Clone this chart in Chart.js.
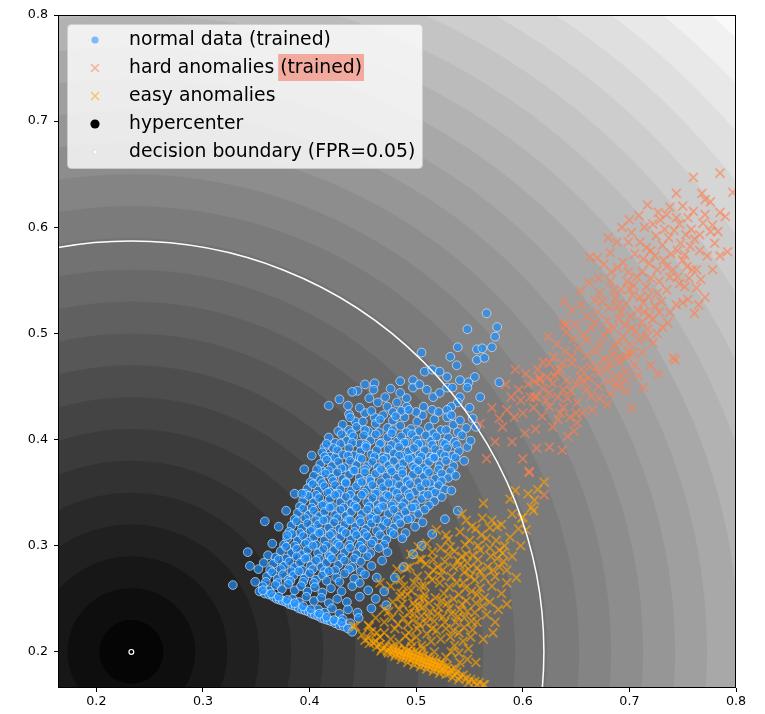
<!DOCTYPE html>
<html>
<head>
<meta charset="utf-8">
<script src="https://cdn.jsdelivr.net/npm/chart.js@4/dist/chart.umd.min.js"></script>
<style>
  html, body { margin: 0; padding: 0; background: #fff; }
  #wrap { width: 765px; height: 714px; }
</style>
</head>
<body>
<div id="wrap"><canvas id="c" width="765" height="714"></canvas></div>
<script>
// Axis ranges and tick values
const xRange = [0.164, 0.8];
const yRange = [0.166, 0.8];
const xTicks = [0.2, 0.3, 0.4, 0.5, 0.6, 0.7, 0.8];
const yTicks = [0.2, 0.3, 0.4, 0.5, 0.6, 0.7, 0.8];

// Hypercenter and the decision boundary radius (FPR = 0.05)
const hypercenter = [[0.2328, 0.2]];
const boundaryRadius = 0.387;

// Distance-to-center levels of the filled score contours
const scoreLevels = [0.03, 0.06, 0.09, 0.12, 0.15, 0.18, 0.21, 0.24, 0.27, 0.30,
  0.33, 0.36, 0.39, 0.42, 0.45, 0.48, 0.51, 0.54, 0.57, 0.60,
  0.63, 0.66, 0.69, 0.72, 0.75, 0.78, 0.81, 0.84];

// Legend entries
const legendLabels = ['normal data (trained)', 'hard anomalies', 'easy anomalies', 'hypercenter', 'decision boundary (FPR=0.05)'];
const highlightedSuffix = '(trained)';

// Normal data (trained)
const normalData = [
  [0.566,0.519],[0.576,0.506],[0.574,0.497],[0.548,0.504],[0.539,0.487],[0.557,0.485],[0.562,0.486],[0.571,0.487],
  [0.505,0.482],[0.532,0.478],[0.557,0.475],[0.564,0.477],[0.538,0.470],[0.508,0.464],[0.515,0.466],[0.522,0.464],
  [0.529,0.459],[0.485,0.455],[0.497,0.456],[0.461,0.453],[0.541,0.456],[0.549,0.454],[0.548,0.449],[0.555,0.459],
  [0.578,0.454],[0.460,0.447],[0.456,0.439],[0.471,0.440],[0.497,0.449],[0.503,0.452],[0.510,0.447],[0.516,0.440],
  [0.522,0.444],[0.529,0.449],[0.534,0.449],[0.541,0.440],[0.560,0.440],[0.539,0.435],[0.533,0.431],[0.529,0.428],
  [0.550,0.430],[0.485,0.444],[0.491,0.439],[0.482,0.435],[0.491,0.431],[0.464,0.435],[0.473,0.431],[0.478,0.426],
  [0.469,0.423],[0.443,0.417],[0.452,0.425],[0.461,0.421],[0.476,0.448],[0.447,0.430],[0.437,0.424],
  [0.445,0.446],[0.452,0.452],[0.436,0.432],[0.418,0.432],[0.428,0.438],[0.440,0.445],
  [0.431,0.414],[0.437,0.409],[0.444,0.412],[0.450,0.417],[0.455,0.408],[0.462,0.415],[0.466,0.419],[0.473,0.411],
  [0.478,0.418],[0.485,0.413],[0.489,0.421],[0.495,0.410],[0.501,0.417],[0.506,0.423],[0.512,0.412],[0.517,0.419],
  [0.523,0.409],[0.529,0.421],[0.535,0.414],[0.541,0.418],[0.547,0.411],[0.500,0.426],[0.515,0.428],[0.486,0.427],
  [0.438,0.421],[0.458,0.427],[0.481,0.422],[0.493,0.428],[0.507,0.431],[0.521,0.426],[0.533,0.423],
  [0.427,0.408],[0.439,0.406],[0.452,0.409],[0.465,0.407],[0.478,0.409],[0.491,0.407],[0.503,0.408],[0.516,0.406],
  [0.528,0.409],[0.539,0.407],
  [0.418,0.402],[0.424,0.397],[0.430,0.405],[0.435,0.399],[0.441,0.403],[0.447,0.396],[0.451,0.404],[0.457,0.399],
  [0.462,0.405],[0.467,0.397],[0.473,0.402],[0.477,0.406],[0.482,0.398],[0.486,0.403],[0.491,0.397],[0.496,0.405],
  [0.500,0.400],[0.505,0.396],[0.509,0.404],[0.514,0.399],[0.519,0.403],[0.525,0.397],[0.530,0.402],[0.536,0.398],
  [0.543,0.404],[0.414,0.393],[0.422,0.392],
  [0.416,0.396],[0.429,0.396],[0.440,0.397],[0.453,0.395],[0.466,0.396],[0.477,0.395],[0.489,0.397],[0.502,0.396],
  [0.515,0.395],[0.527,0.396],[0.538,0.395],
  [0.412,0.388],[0.419,0.384],[0.426,0.390],[0.431,0.386],[0.437,0.392],[0.442,0.385],[0.448,0.389],[0.453,0.393],
  [0.458,0.386],[0.463,0.390],[0.469,0.384],[0.474,0.391],[0.479,0.387],[0.484,0.393],[0.489,0.385],[0.493,0.389],
  [0.498,0.392],[0.503,0.386],[0.508,0.390],[0.513,0.384],[0.518,0.391],[0.523,0.387],[0.529,0.392],[0.534,0.385],
  [0.540,0.389],[0.548,0.393],
  [0.414,0.384],[0.424,0.383],[0.436,0.385],[0.447,0.383],[0.461,0.384],[0.472,0.383],[0.484,0.385],[0.496,0.383],
  [0.505,0.384],[0.516,0.383],[0.527,0.385],[0.537,0.383],
  [0.410,0.377],[0.416,0.381],[0.421,0.375],[0.427,0.379],[0.433,0.374],[0.438,0.380],[0.444,0.376],[0.449,0.382],
  [0.454,0.375],[0.459,0.379],[0.464,0.374],[0.469,0.381],[0.474,0.376],[0.479,0.380],[0.484,0.374],[0.488,0.378],
  [0.493,0.382],[0.497,0.375],[0.502,0.380],[0.507,0.374],[0.512,0.379],[0.517,0.383],[0.522,0.376],[0.528,0.380],
  [0.535,0.375],[0.412,0.370],
  [0.407,0.372],[0.418,0.371],[0.430,0.373],[0.441,0.371],[0.452,0.372],[0.465,0.370],[0.476,0.372],[0.487,0.371],
  [0.499,0.373],[0.510,0.371],[0.521,0.372],[0.532,0.370],
  [0.404,0.366],[0.410,0.362],[0.415,0.368],[0.421,0.364],[0.426,0.369],[0.431,0.363],[0.437,0.367],[0.442,0.371],
  [0.447,0.364],[0.452,0.369],[0.457,0.363],[0.462,0.368],[0.467,0.372],[0.472,0.365],[0.477,0.370],[0.482,0.364],
  [0.487,0.368],[0.492,0.362],[0.497,0.367],[0.502,0.371],[0.507,0.365],[0.512,0.369],[0.518,0.363],[0.524,0.368],
  [0.530,0.364],
  [0.401,0.360],[0.412,0.359],[0.422,0.361],[0.434,0.360],[0.446,0.359],[0.457,0.361],[0.467,0.360],[0.478,0.359],
  [0.491,0.361],[0.502,0.360],[0.513,0.359],[0.524,0.361],
  [0.398,0.354],[0.403,0.358],[0.408,0.352],[0.414,0.356],[0.419,0.351],[0.424,0.357],[0.429,0.353],[0.434,0.359],
  [0.439,0.352],[0.444,0.356],[0.449,0.360],[0.454,0.353],[0.459,0.357],[0.464,0.351],[0.469,0.355],[0.474,0.359],
  [0.479,0.352],[0.484,0.357],[0.489,0.353],[0.494,0.358],[0.499,0.351],[0.504,0.355],[0.509,0.359],[0.515,0.352],
  [0.521,0.357],[0.527,0.353],
  [0.396,0.349],[0.406,0.348],[0.417,0.350],[0.427,0.349],[0.438,0.348],[0.451,0.350],[0.462,0.349],[0.472,0.348],
  [0.482,0.350],[0.493,0.349],[0.507,0.348],[0.518,0.350],
  [0.394,0.343],[0.399,0.347],[0.404,0.341],[0.409,0.345],[0.414,0.339],[0.419,0.344],[0.424,0.348],[0.429,0.341],
  [0.434,0.346],[0.439,0.340],[0.444,0.344],[0.449,0.348],[0.454,0.341],[0.459,0.345],[0.464,0.339],[0.469,0.343],
  [0.474,0.347],[0.479,0.340],[0.484,0.345],[0.489,0.341],[0.494,0.346],[0.499,0.340],[0.505,0.344],[0.511,0.348],
  [0.517,0.342],[0.524,0.346],
  [0.391,0.337],[0.402,0.336],[0.412,0.338],[0.421,0.337],[0.432,0.336],[0.442,0.338],[0.456,0.337],[0.466,0.336],
  [0.477,0.338],[0.487,0.337],[0.499,0.336],[0.512,0.338],
  [0.389,0.331],[0.394,0.335],[0.399,0.329],[0.404,0.333],[0.409,0.328],[0.414,0.332],[0.419,0.336],[0.424,0.329],
  [0.429,0.334],[0.434,0.328],[0.439,0.332],[0.444,0.336],[0.449,0.330],[0.454,0.334],[0.459,0.328],[0.464,0.333],
  [0.469,0.337],[0.474,0.330],[0.479,0.334],[0.484,0.328],[0.490,0.332],[0.496,0.336],[0.502,0.330],[0.508,0.334],
  [0.539,0.333],
  [0.386,0.325],[0.396,0.326],[0.406,0.324],[0.416,0.325],[0.426,0.326],[0.436,0.324],[0.447,0.325],[0.457,0.326],
  [0.470,0.324],[0.482,0.325],[0.495,0.326],
  [0.383,0.319],[0.388,0.323],[0.393,0.317],[0.398,0.321],[0.403,0.316],[0.408,0.320],[0.413,0.324],[0.418,0.317],
  [0.423,0.322],[0.428,0.316],[0.433,0.320],[0.438,0.324],[0.443,0.318],[0.448,0.322],[0.453,0.316],[0.458,0.321],
  [0.463,0.325],[0.468,0.318],[0.473,0.322],[0.479,0.317],[0.485,0.321],[0.492,0.325],[0.499,0.318],[0.506,0.322],
  [0.381,0.313],[0.391,0.312],[0.401,0.314],[0.411,0.313],[0.421,0.312],[0.431,0.314],[0.442,0.313],[0.451,0.312],
  [0.463,0.314],[0.476,0.313],[0.490,0.312],
  [0.379,0.307],[0.384,0.311],[0.389,0.305],[0.394,0.309],[0.399,0.304],[0.404,0.308],[0.409,0.312],[0.414,0.305],
  [0.419,0.310],[0.424,0.304],[0.429,0.308],[0.434,0.312],[0.439,0.306],[0.444,0.310],[0.449,0.304],[0.454,0.309],
  [0.460,0.305],[0.466,0.310],[0.472,0.306],[0.479,0.311],[0.487,0.307],
  [0.376,0.301],[0.386,0.300],[0.396,0.302],[0.406,0.301],[0.416,0.300],[0.426,0.302],[0.437,0.301],[0.447,0.300],
  [0.458,0.302],[0.470,0.301],
  [0.373,0.295],[0.378,0.299],[0.383,0.293],[0.388,0.297],[0.393,0.292],[0.398,0.296],[0.403,0.300],[0.408,0.293],
  [0.413,0.297],[0.418,0.291],[0.423,0.296],[0.428,0.300],[0.433,0.294],[0.438,0.298],[0.444,0.292],[0.450,0.297],
  [0.457,0.293],[0.465,0.298],[0.473,0.294],[0.342,0.294],[0.361,0.291],
  [0.368,0.289],[0.378,0.288],[0.388,0.290],[0.398,0.289],[0.409,0.288],[0.419,0.290],[0.430,0.289],[0.442,0.288],
  [0.454,0.290],
  [0.366,0.283],[0.371,0.287],[0.376,0.281],[0.381,0.285],[0.386,0.280],[0.391,0.284],[0.396,0.288],[0.401,0.281],
  [0.406,0.286],[0.411,0.280],[0.416,0.284],[0.421,0.288],[0.427,0.282],[0.433,0.286],[0.440,0.280],[0.448,0.285],
  [0.458,0.281],[0.468,0.286],[0.344,0.281],[0.357,0.284],
  [0.363,0.277],[0.373,0.278],[0.383,0.276],[0.393,0.277],[0.403,0.278],[0.414,0.276],[0.424,0.277],[0.437,0.278],
  [0.448,0.276],
  [0.360,0.271],[0.365,0.275],[0.370,0.269],[0.375,0.273],[0.380,0.268],[0.385,0.272],[0.390,0.276],[0.395,0.269],
  [0.400,0.274],[0.406,0.268],[0.412,0.272],[0.418,0.276],[0.425,0.270],[0.433,0.274],[0.442,0.269],[0.452,0.273],
  [0.463,0.270],
  [0.359,0.266],[0.370,0.265],[0.382,0.267],[0.394,0.266],[0.404,0.265],[0.416,0.267],[0.428,0.266],[0.447,0.265],
  [0.356,0.262],[0.362,0.258],[0.368,0.263],[0.374,0.259],[0.380,0.264],[0.386,0.258],[0.392,0.262],[0.398,0.257],
  [0.405,0.261],[0.412,0.256],[0.420,0.260],[0.430,0.257],[0.440,0.262],[0.455,0.258],[0.328,0.263],
  [0.384,0.250],[0.390,0.247],[0.397,0.252],[0.404,0.248],[0.411,0.251],[0.418,0.246],[0.426,0.250],[0.435,0.247],
  [0.447,0.252],[0.472,0.244],
  [0.408,0.240],[0.414,0.237],[0.421,0.241],[0.428,0.236],[0.436,0.240],[0.445,0.237],[0.458,0.241],
  [0.424,0.229],[0.431,0.231],[0.438,0.227],[0.446,0.232],
  [0.353,0.257],[0.358,0.255],[0.362,0.254],[0.366,0.252],[0.369,0.250],[0.372,0.249],[0.375,0.248],[0.378,0.247],
  [0.381,0.245],[0.384,0.244],[0.387,0.243],[0.390,0.241],[0.393,0.240],[0.396,0.239],[0.399,0.238],[0.402,0.236],
  [0.405,0.235],[0.408,0.234],[0.411,0.232],[0.414,0.231],[0.417,0.230],[0.420,0.229],[0.424,0.227],[0.428,0.225],
  [0.432,0.224],[0.436,0.222],[0.440,0.219],
  [0.356,0.258],[0.364,0.255],[0.371,0.252],[0.379,0.249],[0.386,0.246],[0.394,0.243],[0.401,0.240],[0.409,0.236],
  [0.416,0.233],[0.423,0.230],[0.430,0.228],
  [0.402,0.385],[0.395,0.372],[0.386,0.349],[0.378,0.333],[0.371,0.318],[0.365,0.302],[0.352,0.278],[0.349,0.266],
  [0.358,0.323],[0.393,0.349],[0.379,0.310],
  [0.515,0.311],[0.505,0.300],[0.497,0.292],[0.488,0.280],[0.480,0.270],[0.470,0.257],[0.462,0.250],[0.527,0.325],
  [0.533,0.352],[0.537,0.366],[0.545,0.380],[0.551,0.399],[0.556,0.412],[0.553,0.420]
];

// Hard anomalies (trained)
const hardData = [
  [0.760,0.647],[0.785,0.651],[0.797,0.633],[0.744,0.632],[0.768,0.632],[0.771,0.626],[0.776,0.624],[0.785,0.614],
  [0.717,0.621],[0.727,0.614],[0.738,0.619],[0.729,0.607],[0.744,0.609],[0.700,0.607],[0.714,0.600],[0.769,0.604],
  [0.778,0.602],[0.776,0.596],[0.766,0.593],[0.783,0.596],[0.792,0.577],[0.702,0.595],[0.710,0.586],[0.716,0.581],
  [0.663,0.572],[0.670,0.571],[0.682,0.576],[0.688,0.586],[0.699,0.586],[0.671,0.552],[0.689,0.562],[0.699,0.558],
  [0.707,0.553],[0.719,0.566],[0.726,0.560],[0.735,0.563],[0.741,0.560],[0.750,0.569],[0.754,0.563],[0.759,0.560],
  [0.763,0.560],[0.752,0.544],[0.763,0.543],[0.771,0.534],[0.761,0.519],[0.750,0.529],[0.735,0.541],[0.726,0.538],
  [0.716,0.544],[0.710,0.534],[0.698,0.549],[0.682,0.549],[0.672,0.538],[0.685,0.541],[0.655,0.527],[0.639,0.530],
  [0.638,0.510],[0.649,0.508],[0.660,0.516],[0.641,0.501],[0.731,0.506],[0.741,0.477],[0.743,0.475],[0.722,0.491],
  [0.713,0.449],[0.702,0.430],[0.593,0.466],
  [0.737,0.590],[0.742,0.597],[0.748,0.585],[0.753,0.593],[0.757,0.582],[0.761,0.589],[0.745,0.578],[0.731,0.583],
  [0.739,0.575],[0.752,0.574],[0.725,0.592],[0.733,0.598],[0.758,0.598],[0.720,0.578],[0.747,0.603],[0.755,0.609],
  [0.675,0.530],[0.681,0.524],[0.687,0.533],[0.692,0.520],[0.697,0.528],[0.703,0.536],[0.708,0.522],[0.713,0.529],
  [0.719,0.517],[0.724,0.526],[0.679,0.512],[0.685,0.505],[0.690,0.514],[0.696,0.508],[0.701,0.516],[0.706,0.502],
  [0.712,0.511],[0.717,0.504],[0.722,0.513],[0.728,0.520],[0.670,0.520],[0.664,0.505],[0.676,0.498],[0.694,0.497],
  [0.700,0.490],[0.709,0.494],[0.686,0.488],[0.672,0.489],[0.660,0.494],[0.716,0.497],[0.704,0.545],[0.692,0.541],
  [0.730,0.530],[0.738,0.520],[0.744,0.527],[0.736,0.510],[0.745,0.553],[0.728,0.549],
  [0.652,0.486],[0.660,0.479],[0.668,0.483],[0.676,0.476],[0.684,0.480],[0.691,0.473],[0.698,0.478],[0.705,0.470],
  [0.646,0.472],[0.655,0.466],[0.663,0.469],[0.671,0.463],[0.679,0.466],[0.688,0.460],[0.696,0.464],[0.640,0.483],
  [0.632,0.490],[0.647,0.495],[0.624,0.497],[0.712,0.482],[0.720,0.470],[0.727,0.462],[0.690,0.450],[0.680,0.455],
  [0.625,0.472],[0.635,0.466],[0.641,0.456],[0.654,0.459],[0.670,0.469],[0.682,0.472],[0.691,0.478],[0.699,0.482],
  [0.613,0.440],[0.625,0.444],[0.633,0.440],[0.642,0.439],[0.651,0.435],[0.660,0.447],[0.672,0.439],[0.679,0.433],
  [0.688,0.453],[0.696,0.456],[0.616,0.456],[0.623,0.459],[0.628,0.453],[0.635,0.425],[0.644,0.421],[0.651,0.416],
  [0.625,0.431],[0.633,0.419],
  [0.611,0.440],[0.616,0.458],[0.602,0.406],[0.625,0.393],[0.637,0.390],[0.642,0.403],[0.574,0.398],
  [0.566,0.382],[0.600,0.382],[0.606,0.370],[0.619,0.473],[0.632,0.464],[0.640,0.508],[0.646,0.478],[0.620,0.348],
  [0.606,0.369],
  [0.605,0.452],[0.610,0.430],[0.618,0.422],[0.622,0.437],[0.628,0.412],[0.638,0.430],[0.645,0.446],[0.650,0.425],
  [0.657,0.455],[0.664,0.441],[0.598,0.437],[0.592,0.421],[0.585,0.428],[0.612,0.410],[0.596,0.447],[0.581,0.412],
  [0.665,0.428],[0.603,0.462],[0.614,0.466],[0.629,0.478],[0.637,0.472],
  [0.683,0.558],[0.694,0.567],[0.705,0.575],[0.713,0.570],[0.724,0.573],[0.732,0.569],[0.712,0.558],[0.720,0.552],
  [0.738,0.553],[0.747,0.547],[0.756,0.552],[0.767,0.551],[0.773,0.573],[0.780,0.585],[0.766,0.578],[0.771,0.612],
  [0.760,0.615],[0.750,0.620],[0.735,0.612],[0.722,0.603],[0.709,0.611],[0.693,0.600],[0.680,0.590],[0.676,0.565],
  [0.662,0.548],[0.654,0.540],[0.646,0.522],[0.668,0.531],[0.657,0.499],[0.668,0.510],[0.680,0.503],[0.689,0.526],
  [0.702,0.505],[0.714,0.520],[0.726,0.500],[0.718,0.535],[0.700,0.542],[0.690,0.492],[0.703,0.482],[0.662,0.458],
  [0.650,0.452],[0.638,0.447],[0.630,0.460],[0.619,0.448],[0.607,0.440],[0.611,0.455],[0.600,0.425],[0.589,0.440],
  [0.578,0.420],[0.584,0.452],[0.571,0.430],[0.560,0.415],[0.590,0.398],[0.613,0.392],[0.648,0.408],[0.656,0.425],
  [0.671,0.450],[0.682,0.443],[0.697,0.446],[0.708,0.460],[0.755,0.532],[0.765,0.527],[0.778,0.560],[0.785,0.573],
  [0.790,0.610]
];

// Easy anomalies
const easyData = [
  [0.588,0.344],[0.605,0.349],[0.614,0.353],[0.608,0.336],[0.599,0.326],[0.610,0.333],[0.620,0.360],[0.563,0.340],
  [0.547,0.324],[0.571,0.324],[0.576,0.318],[0.569,0.317],[0.588,0.308],[0.594,0.270],[0.541,0.313],[0.519,0.315],
  [0.530,0.306],[0.532,0.299],[0.546,0.301],[0.560,0.296],[0.569,0.298],[0.578,0.296],[0.581,0.293],[0.567,0.280],
  [0.572,0.277],[0.578,0.280],[0.585,0.277],[0.574,0.271],[0.515,0.294],[0.516,0.287],[0.505,0.287],[0.501,0.271],
  [0.494,0.280],[0.516,0.277],[0.525,0.277],[0.533,0.271],[0.522,0.265],[0.531,0.261],[0.503,0.251],[0.508,0.254],
  [0.499,0.243],[0.494,0.237],[0.557,0.254],[0.564,0.251],[0.562,0.243],[0.555,0.237],[0.566,0.235],[0.574,0.228],
  [0.553,0.221],[0.563,0.212],[0.533,0.200],[0.485,0.268],[0.492,0.254],[0.600,0.327],[0.564,0.169],
  [0.543,0.290],[0.548,0.284],[0.553,0.291],[0.557,0.279],[0.545,0.275],[0.551,0.271],[0.558,0.287],[0.541,0.282],
  [0.549,0.278],[0.555,0.268],[0.538,0.265],[0.546,0.260],[0.552,0.257],[0.540,0.254],[0.547,0.248],
  [0.488,0.232],[0.492,0.226],[0.497,0.230],[0.501,0.222],[0.505,0.234],[0.509,0.227],[0.513,0.238],[0.517,0.229],
  [0.521,0.242],[0.525,0.233],[0.529,0.246],[0.533,0.236],[0.537,0.228],[0.541,0.240],[0.545,0.232],[0.490,0.215],
  [0.495,0.210],[0.500,0.214],[0.505,0.206],[0.510,0.217],[0.514,0.210],[0.519,0.220],[0.523,0.212],[0.528,0.222],
  [0.532,0.214],[0.536,0.206],[0.540,0.218],[0.544,0.210],[0.512,0.246],[0.518,0.251],[0.506,0.242],[0.526,0.255],
  [0.535,0.250],[0.480,0.222],[0.484,0.240],[0.478,0.247],[0.470,0.228],[0.462,0.232],[0.455,0.225],[0.466,0.214],
  [0.458,0.219],[0.443,0.224],[0.449,0.216],[0.474,0.238],[0.497,0.246],[0.486,0.255],[0.476,0.262],[0.508,0.262],
  [0.498,0.265],[0.515,0.268],[0.527,0.285],[0.536,0.295],[0.523,0.298],[0.510,0.302],[0.528,0.310],[0.550,0.305],
  [0.556,0.316],[0.562,0.326],[0.566,0.307],[0.576,0.288],[0.583,0.300],[0.590,0.290],[0.596,0.316],[0.571,0.262],
  [0.580,0.255],[0.585,0.245],[0.569,0.247],[0.545,0.223],[0.551,0.214],[0.557,0.228],[0.540,0.199],[0.548,0.193],
  [0.502,0.299],[0.503,0.287],[0.491,0.279],[0.466,0.265],[0.485,0.252],[0.503,0.243],[0.456,0.224],[0.441,0.224],
  [0.463,0.218],[0.593,0.352],[0.611,0.343],
  [0.470,0.240],[0.477,0.232],[0.483,0.226],[0.487,0.245],[0.493,0.218],[0.498,0.236],[0.503,0.226],[0.507,0.250],
  [0.511,0.233],[0.515,0.222],[0.520,0.236],[0.524,0.248],[0.527,0.228],[0.531,0.241],[0.535,0.220],[0.539,0.233],
  [0.543,0.245],[0.548,0.238],[0.552,0.229],[0.556,0.246],[0.560,0.260],[0.564,0.270],[0.558,0.300],[0.547,0.292],
  [0.539,0.286],[0.530,0.292],[0.520,0.280],[0.512,0.272],[0.505,0.262],[0.495,0.258],[0.488,0.262],[0.482,0.278],
  [0.495,0.292],[0.509,0.283],[0.523,0.272],[0.535,0.280],[0.544,0.265],[0.560,0.276],[0.570,0.290],[0.582,0.285],
  [0.575,0.305],[0.561,0.310],[0.552,0.318],[0.543,0.330],[0.580,0.320],[0.590,0.330],[0.598,0.300],[0.603,0.315],
  [0.585,0.265],[0.577,0.240],[0.572,0.218],[0.549,0.203],[0.556,0.190],[0.541,0.190],[0.528,0.195],[0.517,0.200],
  [0.506,0.203],[0.496,0.205],[0.484,0.209],[0.476,0.212],[0.470,0.218],[0.462,0.210],[0.455,0.213],
  [0.452,0.211],[0.456,0.208],[0.460,0.209],[0.463,0.205],[0.466,0.207],[0.468,0.203],[0.471,0.205],[0.473,0.201],
  [0.475,0.204],[0.477,0.199],[0.479,0.202],[0.481,0.198],[0.482,0.201],[0.484,0.197],[0.485,0.200],[0.487,0.196],
  [0.488,0.199],[0.490,0.195],[0.491,0.198],[0.493,0.194],[0.494,0.197],[0.496,0.193],[0.497,0.196],[0.499,0.191],
  [0.500,0.195],[0.502,0.190],[0.503,0.194],[0.505,0.189],[0.506,0.192],[0.508,0.188],[0.509,0.191],[0.511,0.187],
  [0.512,0.190],[0.514,0.186],[0.515,0.189],[0.517,0.185],[0.518,0.188],[0.520,0.184],[0.521,0.187],[0.523,0.183],
  [0.525,0.185],[0.527,0.182],[0.529,0.184],[0.531,0.180],[0.533,0.183],[0.536,0.178],[0.538,0.181],[0.541,0.177],
  [0.544,0.178],[0.547,0.175],[0.551,0.174],[0.555,0.172],[0.559,0.171],[0.563,0.169],[0.489,0.203],[0.495,0.200],
  [0.501,0.198],[0.507,0.196],[0.513,0.193],[0.519,0.191],[0.525,0.189],[0.486,0.193],[0.498,0.188],[0.510,0.184],
  [0.522,0.180],[0.534,0.176],
  [0.478,0.205],[0.483,0.203],[0.492,0.201],[0.497,0.199],[0.504,0.197],[0.511,0.195],[0.516,0.192],[0.523,0.190],
  [0.529,0.187],[0.537,0.184],[0.492,0.190],[0.504,0.186],[0.516,0.182],[0.528,0.179],[0.540,0.174],[0.549,0.171],
  [0.557,0.169],[0.480,0.196],[0.474,0.199],[0.467,0.201]
];

const toPoints = arr => arr.map(([x, y]) => ({ x, y }));

const FONT = 'DejaVu Sans';
const COLORS = {
  normalFill: 'rgba(30,144,255,0.68)',
  normalEdge: 'rgba(255,255,255,0.55)',
  hard: 'rgba(255,127,80,0.62)',
  easy: 'rgba(255,165,0,0.62)',
  highlight: '#f2aa9f'
};

// Pixel geometry helpers built on the chart's own scales
function centerAndScale(chart) {
  const { x, y } = chart.scales;
  const cx = x.getPixelForValue(hypercenter[0][0]);
  const cy = y.getPixelForValue(hypercenter[0][1]);
  const kx = Math.abs(x.getPixelForValue(1) - x.getPixelForValue(0));
  const ky = Math.abs(y.getPixelForValue(1) - y.getPixelForValue(0));
  return { cx, cy, kx, ky };
}

// Filled concentric score contours (gray colormap), boundary circle and frame
const contourPlugin = {
  id: 'scoreContours',
  beforeDatasetsDraw(chart) {
    const { ctx, chartArea: a } = chart;
    const { cx, cy, kx, ky } = centerAndScale(chart);
    const n = scoreLevels.length;
    const gray = k => { const g = Math.round(255 * (k + 0.5) / n); return `rgb(${g},${g},${g})`; };
    ctx.save();
    ctx.beginPath();
    ctx.rect(a.left, a.top, a.right - a.left, a.bottom - a.top);
    ctx.clip();
    ctx.fillStyle = gray(n - 1);
    ctx.fillRect(a.left, a.top, a.right - a.left, a.bottom - a.top);
    for (let k = n - 1; k >= 0; k--) {
      ctx.fillStyle = gray(k);
      ctx.beginPath();
      ctx.ellipse(cx, cy, scoreLevels[k] * kx, scoreLevels[k] * ky, 0, 0, Math.PI * 2);
      ctx.fill();
    }
    ctx.restore();
  },
  afterDatasetsDraw(chart) {
    const { ctx, chartArea: a } = chart;
    const { cx, cy, kx, ky } = centerAndScale(chart);
    ctx.save();
    ctx.beginPath();
    ctx.rect(a.left, a.top, a.right - a.left, a.bottom - a.top);
    ctx.clip();
    ctx.strokeStyle = '#ffffff';
    ctx.lineWidth = 1.5;
    ctx.beginPath();
    ctx.ellipse(cx, cy, boundaryRadius * kx, boundaryRadius * ky, 0, 0, Math.PI * 2);
    ctx.stroke();
    ctx.restore();
    ctx.save();
    ctx.strokeStyle = '#000';
    ctx.lineWidth = 1;
    ctx.strokeRect(Math.round(a.left) + 0.5, Math.round(a.top) + 0.5,
      Math.round(a.right - a.left) - 1, Math.round(a.bottom - a.top) - 1);
    ctx.restore();
  }
};

// Legend with a highlighted "(trained)" suffix on the hard anomalies entry
const legendPlugin = {
  id: 'customLegend',
  afterDraw(chart) {
    const ctx = chart.ctx;
    const bx = 67.5, by = 24.5, bw = 355, bh = 144, r = 4;
    ctx.save();
    ctx.beginPath();
    ctx.moveTo(bx + r, by);
    ctx.arcTo(bx + bw, by, bx + bw, by + bh, r);
    ctx.arcTo(bx + bw, by + bh, bx, by + bh, r);
    ctx.arcTo(bx, by + bh, bx, by, r);
    ctx.arcTo(bx, by, bx + bw, by, r);
    ctx.closePath();
    ctx.fillStyle = 'rgba(255,255,255,0.8)';
    ctx.fill();
    ctx.strokeStyle = 'rgba(204,204,204,0.8)';
    ctx.lineWidth = 1;
    ctx.stroke();

    const rowY = [40, 68, 96, 124, 152];
    const mx = 95, tx = 129;
    ctx.font = `18.8px "${FONT}"`;
    ctx.textBaseline = 'middle';
    ctx.textAlign = 'left';

    ctx.fillStyle = 'rgba(30,144,255,0.55)';
    ctx.beginPath(); ctx.arc(mx, rowY[0], 3.6, 0, Math.PI * 2); ctx.fill();
    const cross = (y, color) => {
      ctx.strokeStyle = color; ctx.lineWidth = 1.6;
      ctx.beginPath();
      ctx.moveTo(mx - 4, y - 4); ctx.lineTo(mx + 4, y + 4);
      ctx.moveTo(mx - 4, y + 4); ctx.lineTo(mx + 4, y - 4);
      ctx.stroke();
    };
    cross(rowY[1], 'rgba(255,127,80,0.55)');
    cross(rowY[2], 'rgba(255,165,0,0.55)');
    ctx.fillStyle = '#000';
    ctx.beginPath(); ctx.arc(mx, rowY[3], 4.6, 0, Math.PI * 2); ctx.fill();
    ctx.fillStyle = '#fff';
    ctx.strokeStyle = 'rgba(0,0,0,0.12)'; ctx.lineWidth = 0.8;
    ctx.beginPath(); ctx.arc(mx, rowY[4], 2.2, 0, Math.PI * 2); ctx.fill(); ctx.stroke();

    const prefix = legendLabels[1] + ' ';
    const hx = tx + ctx.measureText(prefix).width;
    const hw = ctx.measureText(highlightedSuffix).width;
    ctx.fillStyle = COLORS.highlight;
    ctx.fillRect(hx - 2, rowY[1] - 14, hw + 4, 27);

    ctx.fillStyle = '#000';
    ctx.fillText(legendLabels[0], tx, rowY[0]);
    ctx.fillText(prefix + highlightedSuffix, tx, rowY[1]);
    ctx.fillText(legendLabels[2], tx, rowY[2]);
    ctx.fillText(legendLabels[3], tx, rowY[3]);
    ctx.fillText(legendLabels[4], tx, rowY[4]);
    ctx.restore();
  }
};

const tickFont = { family: FONT, size: 12.7 };

new Chart(document.getElementById('c'), {
  type: 'scatter',
  data: {
    datasets: [
      {
        label: legendLabels[3],
        data: toPoints(hypercenter),
        pointRadius: 2.4,
        pointBackgroundColor: '#000',
        pointBorderColor: '#fff',
        pointBorderWidth: 1.2,
        order: 0
      },
      {
        label: legendLabels[2],
        data: toPoints(easyData),
        pointStyle: 'crossRot',
        pointRadius: 6.3,
        pointBorderColor: COLORS.easy,
        pointBorderWidth: 1.8,
        order: 1
      },
      {
        label: legendLabels[1] + ' ' + highlightedSuffix,
        data: toPoints(hardData),
        pointStyle: 'crossRot',
        pointRadius: 6.3,
        pointBorderColor: COLORS.hard,
        pointBorderWidth: 1.8,
        order: 2
      },
      {
        label: legendLabels[0],
        data: toPoints(normalData),
        pointRadius: 4.4,
        pointBackgroundColor: COLORS.normalFill,
        pointBorderColor: COLORS.normalEdge,
        pointBorderWidth: 1,
        order: 3
      }
    ]
  },
  options: {
    responsive: false,
    animation: false,
    events: [],
    layout: { padding: { left: 0, right: 29, top: 15, bottom: 0 } },
    plugins: { legend: { display: false }, tooltip: { enabled: false } },
    scales: {
      x: {
        type: 'linear',
        min: xRange[0],
        max: xRange[1],
        afterBuildTicks: s => { s.ticks = xTicks.map(v => ({ value: v })); },
        afterFit: s => { s.height = 26; },
        ticks: { color: '#000', font: tickFont, padding: 2, maxRotation: 0, autoSkip: false,
                 callback: v => Number(v).toFixed(1) },
        grid: { drawOnChartArea: false, color: '#000', tickLength: 4, lineWidth: 1 },
        border: { display: false }
      },
      y: {
        type: 'linear',
        min: yRange[0],
        max: yRange[1],
        afterBuildTicks: s => { s.ticks = yTicks.map(v => ({ value: v })); },
        afterFit: s => { s.width = 58; },
        ticks: { color: '#000', font: tickFont, padding: 6, autoSkip: false,
                 callback: v => Number(v).toFixed(1) },
        grid: { drawOnChartArea: false, color: '#000', tickLength: 4, lineWidth: 1 },
        border: { display: false }
      }
    }
  },
  plugins: [contourPlugin, legendPlugin]
});
</script>
</body>
</html>
